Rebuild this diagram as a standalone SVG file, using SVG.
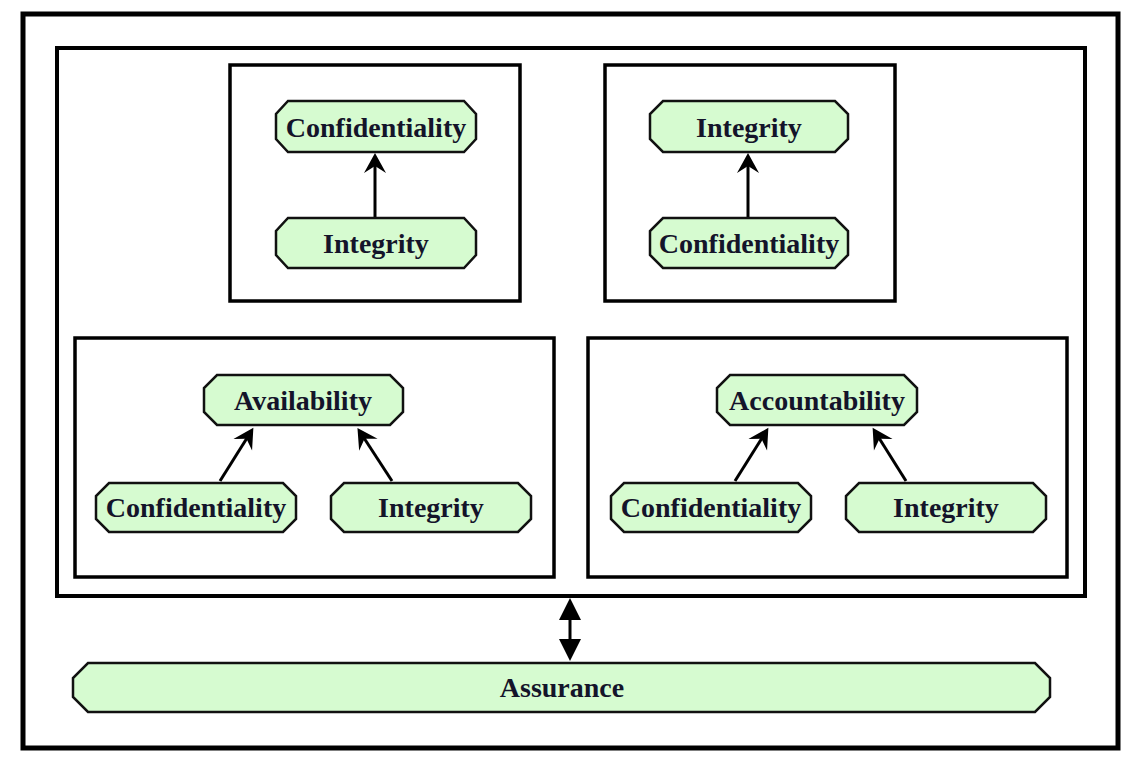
<svg xmlns="http://www.w3.org/2000/svg" width="1142" height="766" viewBox="0 0 1142 766">
<style>
.frame{fill:none;stroke:#000;stroke-width:5}
.inner{fill:none;stroke:#000;stroke-width:4}
.box{fill:none;stroke:#000;stroke-width:3.5}
.node{fill:#d6fbd0;stroke:#111;stroke-width:2.5}
.lbl{font-family:'Liberation Serif','DejaVu Serif','Times New Roman',serif;font-weight:bold;font-size:28px;fill:#14142a;text-anchor:middle}
.conn{fill:none;stroke:#000;stroke-width:3}
</style>
<defs>
<marker id="barb" viewBox="-22 -12 24 24" refX="-12" refY="0" markerWidth="24" markerHeight="24" orient="auto" markerUnits="userSpaceOnUse">
<path d="M0,0 L-20,-11 L-13,0 L-20,11 Z" fill="#000"/>
</marker>
<marker id="tri" viewBox="-24 -12 26 24" refX="-20" refY="0" markerWidth="26" markerHeight="24" orient="auto-start-reverse" markerUnits="userSpaceOnUse">
<path d="M0,0 L-22,-11 L-22,11 Z" fill="#000"/>
</marker>
</defs>
<rect class="frame" x="23" y="14" width="1095" height="734"/>
<rect class="inner" x="57" y="48" width="1028" height="548"/>
<rect class="box" x="230" y="65" width="290" height="236"/>
<rect class="box" x="605" y="65" width="290" height="236"/>
<rect class="box" x="75" y="338" width="479" height="239"/>
<rect class="box" x="588" y="338" width="479" height="239"/>
<g id="connectors">
<line class="conn" x1="375" y1="218" x2="375" y2="165" marker-end="url(#barb)" stroke-width="4"/>
<line class="conn" x1="748" y1="218" x2="748" y2="165" marker-end="url(#barb)" stroke-width="2.5"/>
<line class="conn" x1="220" y1="481" x2="247" y2="438" marker-end="url(#barb)"/>
<line class="conn" x1="392" y1="481" x2="364" y2="438" marker-end="url(#barb)"/>
<line class="conn" x1="735" y1="481" x2="762" y2="438" marker-end="url(#barb)"/>
<line class="conn" x1="906" y1="481" x2="879" y2="438" marker-end="url(#barb)"/>
<line class="conn" x1="570" y1="618" x2="570" y2="641" marker-start="url(#tri)" marker-end="url(#tri)"/>
</g>
<g id="n1-conf"><path class="node" d="M288,101 H464 L476,114 V139 L464,152 H288 L276,139 V114 Z"/><text class="lbl" x="376" y="137">Confidentiality</text></g>
<g id="n1-int"><path class="node" d="M288,218 H464 L476,231 V255 L464,268 H288 L276,255 V231 Z"/><text class="lbl" x="376" y="253">Integrity</text></g>
<g id="n2-int"><path class="node" d="M663,101 H835 L848,114 V139 L835,152 H663 L650,139 V114 Z"/><text class="lbl" x="749" y="137">Integrity</text></g>
<g id="n2-conf"><path class="node" d="M663,218 H835 L848,231 V255 L835,268 H663 L650,255 V231 Z"/><text class="lbl" x="749" y="253">Confidentiality</text></g>
<g id="n3-avail"><path class="node" d="M217,375 H390 L403,388 V412 L390,425 H217 L204,412 V388 Z"/><text class="lbl" x="303" y="410">Availability</text></g>
<g id="n3-conf"><path class="node" d="M109,483 H283 L296,496 V519 L283,532 H109 L96,519 V496 Z"/><text class="lbl" x="196" y="517">Confidentiality</text></g>
<g id="n3-int"><path class="node" d="M344,483 H518 L531,496 V519 L518,532 H344 L331,519 V496 Z"/><text class="lbl" x="431" y="517">Integrity</text></g>
<g id="n4-acc"><path class="node" d="M730,375 H904 L917,388 V412 L904,425 H730 L717,412 V388 Z"/><text class="lbl" x="817" y="410">Accountability</text></g>
<g id="n4-conf"><path class="node" d="M624,483 H798 L811,496 V519 L798,532 H624 L611,519 V496 Z"/><text class="lbl" x="711" y="517">Confidentiality</text></g>
<g id="n4-int"><path class="node" d="M859,483 H1033 L1046,496 V519 L1033,532 H859 L846,519 V496 Z"/><text class="lbl" x="946" y="517">Integrity</text></g>
<g id="assurance"><path class="node" d="M88,663 H1035 L1050,678 V697 L1035,712 H88 L73,697 V678 Z"/><text class="lbl" x="562" y="697">Assurance</text></g>
</svg>
